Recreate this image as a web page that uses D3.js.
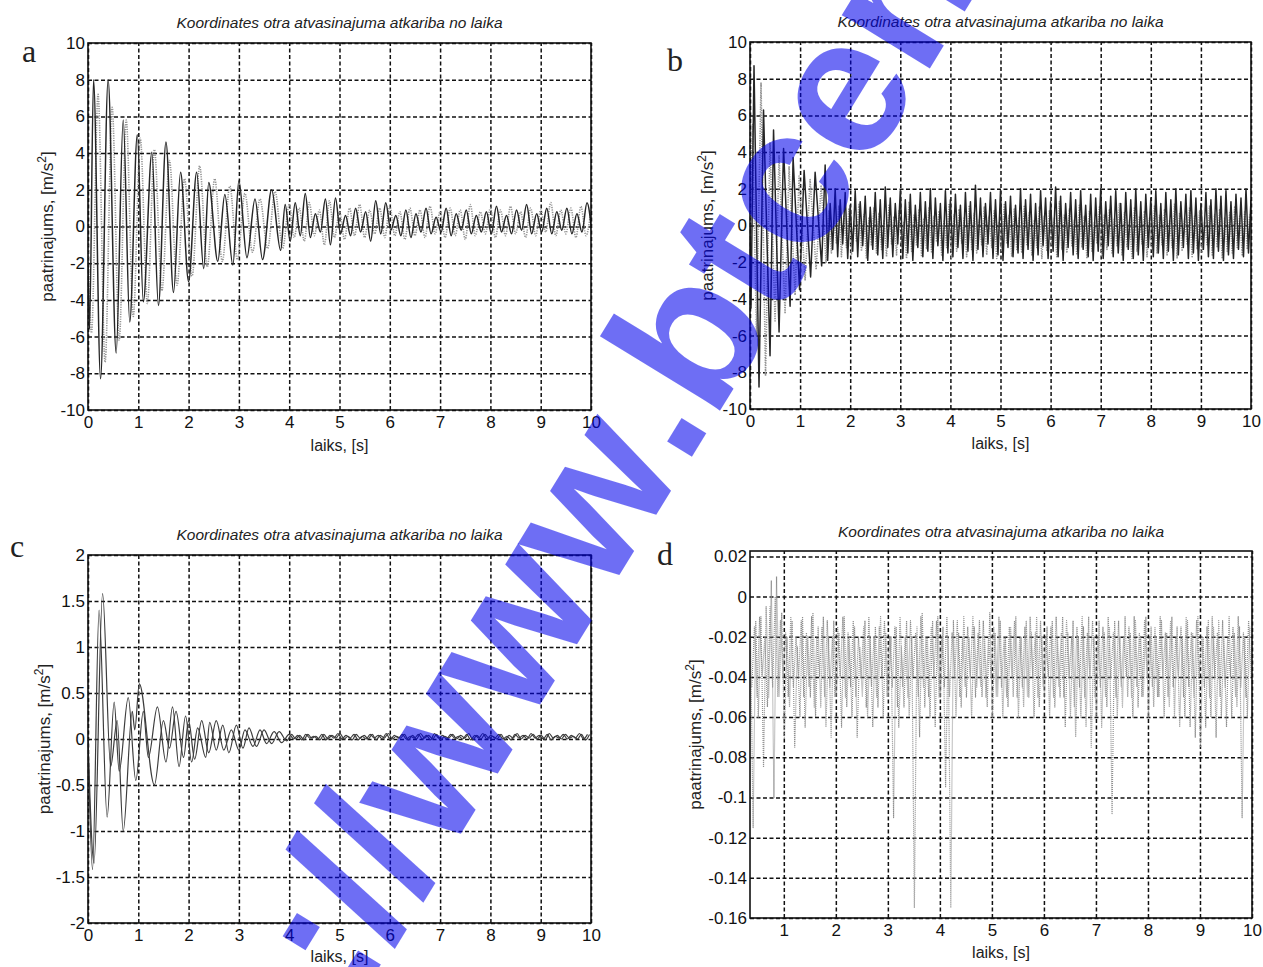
<!DOCTYPE html>
<html>
<head>
<meta charset="utf-8">
<script src="https://cdn.jsdelivr.net/npm/d3@7"></script>
<style>
  body { margin: 0; background: #fff; }
  svg { display: block; background: #fff; }
</style>
</head>
<body>
<svg id="chart" width="1263" height="967"></svg>
<script>
const TITLE = "Koordinates otra atvasinajuma atkariba no laika";
const XLABEL = "laiks, [s]";
const YLABEL = "paatrinajums, [m/s";

const xTicks10 = [0, 1, 2, 3, 4, 5, 6, 7, 8, 9, 10];
const xTicksD = [1, 2, 3, 4, 5, 6, 7, 8, 9, 10];
const yTicksAB = [-10, -8, -6, -4, -2, 0, 2, 4, 6, 8, 10];
const yTicksC = [-2, -1.5, -1, -0.5, 0, 0.5, 1, 1.5, 2];
const yLabelsC = ["-2", "-1.5", "-1", "-0.5", "0", "0.5", "1", "1.5", "2"];
const yTicksD = [-0.16, -0.14, -0.12, -0.1, -0.08, -0.06, -0.04, -0.02, 0, 0.02];
const yLabelsD = ["-0.16", "-0.14", "-0.12", "-0.1", "-0.08", "-0.06", "-0.04", "-0.02", "0", "0.02"];

// ---- panel a : [t, value] turning points, then tail values at fixed step
const aSolidHead = [[0,-2],[0.03,-5.6],[0.11,8.0],[0.25,-8.3],[0.40,8.0],[0.56,-6.9],[0.70,5.8],[0.83,-5.2],
  [0.98,5.0],[1.10,-4.1],[1.27,4.05],[1.40,-4.3],[1.55,4.6],[1.70,-3.6],[1.84,2.95],[2.0,-3.0],[2.16,2.95],
  [2.30,-2.3],[2.40,2.4],[2.58,-1.9],[2.72,1.75],[2.88,-2.1],[3.0,2.5],[3.16,-1.7],[3.32,1.5],[3.47,-1.8],
  [3.65,2.0],[3.83,-1.3],[3.92,1.2],[4.02,-0.8]];
const aSolidTail = [1.3,-0.5, 1.8,-0.6, 0.7,-0.3, 1.5,-1.0, 1.55,-0.4, 0.6,-0.5, 1.0,-0.3, 0.8,-0.8, 1.4,-0.4, 1.3,-0.2,
  0.6,-0.5, 0.9,-0.6, 0.7,-0.3, 1.0,-0.4, 0.5,-0.3, 1.0,-0.5, 0.7,-0.2, 0.9,-0.4, 0.6,-0.3, 0.8,-0.4,
  1.1,-0.3, 0.6,-0.4, 0.9,-0.2, 1.2,-0.4, 0.7,-0.3, 1.0,-0.4, 0.8,-0.2, 1.0,-0.4, 0.7,-0.3, 1.3,-0.4];
const aDotHead = [[0,-1],[0.07,-5.8],[0.2,7.2],[0.34,-7.4],[0.48,6.5],[0.62,-6.2],[0.76,5.8],[0.9,-4.9],
  [1.04,4.8],[1.18,-4.2],[1.32,4.2],[1.47,-3.5],[1.62,3.6],[1.77,-3.2],[1.92,2.6],[2.07,-2.7],[2.22,3.3],
  [2.37,-2.2],[2.52,2.6],[2.67,-1.9],[2.82,2.2],[2.97,-1.8],[3.12,1.8],[3.27,-1.4],[3.42,1.5],[3.57,-1.2],
  [3.72,1.9],[3.87,-1.2],[4.0,1.2]];
const aDotTail = [-0.6,1.0, -0.8,1.3, -0.5,0.9, -1.0,1.4, -0.6,0.8, -0.7,1.0, -0.5,1.2, -0.6,0.9, -0.4,1.0, -0.6,1.1,
  -0.5,0.8, -0.7,1.0, -0.5,0.9, -0.6,1.1, -0.4,0.8, -0.6,1.0, -0.5,0.9, -0.7,1.2, -0.5,0.8, -0.4,1.0,
  -0.6,0.9, -0.5,1.1, -0.4,0.8, -0.6,1.0, -0.5,0.9, -0.3,1.3, -0.5,0.9, -0.4,1.0, -0.6,1.1, -0.5,0.9];

// ---- panel b
const bSolidHead = [[0,0],[0.02,-4.5],[0.08,8.7],[0.18,-8.8],[0.27,6.3],[0.40,-7.1],[0.47,5.2],[0.58,-5.8],
  [0.67,4.2],[0.80,-4.4],[0.86,3.7],[0.99,-3.5],[1.08,3.0],[1.21,-2.8],[1.30,2.9],[1.43,-2.2],[1.50,3.3]];
const bSolidTail = [-1.9,1.2, -1.3,2.0, -1.7,1.4, -1.0,1.8, -1.8,1.1, -1.4,1.9, -1.7,1.3, -1.1,1.6, -1.9,1.0, -1.3,1.8,
  -1.6,1.4, -1.8,2.1, -1.2,1.5, -1.7,1.2, -1.0,1.9, -1.8,1.4, -1.5,1.7, -1.9,1.1, -1.2,1.8, -1.7,1.3,
  -1.4,2.0, -1.8,1.5, -1.1,1.2, -1.9,1.9, -1.5,1.4, -1.7,1.7, -1.2,1.1, -1.8,1.8, -1.4,1.3, -1.9,2.2,
  -1.3,1.5, -1.7,1.2, -1.0,1.8, -1.8,1.4, -1.6,1.9, -1.9,1.3, -1.2,1.6, -1.7,1.1, -1.5,2.0, -1.8,1.4,
  -1.3,1.7, -1.9,1.2, -1.6,1.9, -1.1,1.5, -1.8,1.3, -1.4,2.1, -1.7,1.6, -1.9,1.2, -1.2,1.8, -1.6,1.4,
  -1.8,1.9, -1.3,1.1, -1.7,1.7, -1.9,1.5, -1.4,2.0, -1.8,1.3, -1.1,1.6, -1.7,1.9, -1.5,1.2, -1.9,1.8,
  -1.3,1.4, -1.8,2.0, -1.6,1.3, -1.9,1.7, -1.2,1.5, -1.7,1.9, -1.5,1.2, -1.8,1.8, -1.4,1.4, -1.9,2.0,
  -1.6,1.3, -1.2,1.7, -1.8,1.9, -1.5,1.5, -1.9,1.2, -1.3,1.8, -1.7,1.4, -1.8,2.0, -1.4,1.6, -1.9,1.9,
  -1.6,1.3, -1.8,1.7, -1.3,1.5, -1.7,2.0, -1.5,1.4];
const bDotHead = [[0,0],[0.05,5.5],[0.13,-6.0],[0.22,7.8],[0.31,-8.2],[0.40,4.5],[0.50,-5.2],[0.58,3.8],
  [0.70,-4.8],[0.78,3.2],[0.90,-3.8],[0.98,2.7],[1.10,-3.0],[1.20,2.5],[1.32,-2.4],[1.42,2.2],[1.52,-2.0]];
const bDotTail = [0.8,-1.5, 0.3,-1.0, 1.1,-1.7, 0.5,-1.2, 0.9,-1.6, 0.2,-0.9, 1.2,-1.4, 0.6,-1.8, 0.4,-1.1, 1.0,-1.5,
  0.7,-1.3, 0.3,-1.7, 1.1,-1.0, 0.5,-1.6, 0.8,-1.2, 0.2,-1.8, 1.3,-1.4, 0.6,-1.1, 0.9,-1.7, 0.4,-1.3,
  1.0,-1.5, 0.5,-0.9, 0.8,-1.6, 0.3,-1.2, 1.2,-1.8, 0.6,-1.4, 0.9,-1.0, 0.4,-1.7, 1.1,-1.3, 0.7,-1.5,
  0.3,-1.1, 1.0,-1.6, 0.5,-1.2, 0.8,-1.8, 0.2,-1.4, 1.2,-1.0, 0.6,-1.7, 0.9,-1.3, 0.4,-1.5, 1.1,-1.1,
  0.7,-1.6, 0.3,-1.2, 1.0,-1.8, 0.5,-1.4, 0.8,-1.0, 0.4,-1.7, 1.3,-1.3, 0.6,-1.5, 0.9,-1.1, 0.3,-1.6,
  1.1,-1.2, 0.5,-1.8, 0.8,-1.4, 0.2,-1.0, 1.0,-1.7, 0.6,-1.3, 0.9,-1.5, 0.4,-1.1, 1.2,-1.6, 0.7,-1.2,
  0.3,-1.8, 1.0,-1.4, 0.5,-1.0, 0.8,-1.7, 0.4,-1.3, 1.1,-1.5, 0.6,-1.1, 0.9,-1.6, 0.3,-1.2, 1.2,-1.8,
  0.7,-1.4, 0.4,-1.0, 1.0,-1.7, 0.5,-1.3, 0.8,-1.5, 0.2,-1.1, 1.1,-1.6, 0.6,-1.2, 0.9,-1.8, 0.4,-1.4,
  0.7,-1.5, 1.0,-1.2, 0.5,-1.6, 0.8,-1.3, 0.6];

// ---- panel c
const cOneHead = [[0,0],[0.09,-1.42],[0.22,1.4],[0.38,-0.85],[0.52,0.4],[0.62,-0.35],[0.80,0.45],[0.95,-0.45],
  [1.10,0.3],[1.2,-0.2],[1.38,0.35],[1.55,-0.25],[1.68,0.35],[1.81,-0.3],[1.94,0.25],[2.06,-0.25],[2.18,0.12],
  [2.34,-0.2],[2.42,0.18],[2.55,-0.12],[2.68,0.15],[2.8,-0.15],[2.95,0.15],[3.08,-0.1],[3.2,0.12],[3.35,-0.08],
  [3.5,0.1],[3.65,-0.05],[3.8,0.08],[3.95,-0.02]];
const cOneTail = [0.05,0.0, 0.04,-0.01, 0.05,0.01, 0.03,-0.01, 0.05,0.0, 0.04,0.01, 0.06,0.0, 0.03,-0.01, 0.05,0.01, 0.04,0.0,
  0.05,-0.01, 0.04,0.01, 0.06,0.0, 0.03,0.01, 0.05,-0.01, 0.04,0.0, 0.06,0.01, 0.04,0.0, 0.05,-0.01, 0.03,0.01,
  0.05,0.0, 0.04,0.01, 0.06,-0.01, 0.04,0.0, 0.05,0.01, 0.03,0.0, 0.05,-0.01, 0.04,0.01, 0.06,0.0, 0.04,0.01,
  0.05,0.0, 0.04,-0.01, 0.06,0.01, 0.04,0.0, 0.05,0.01, 0.03,0.0, 0.05,-0.01, 0.05];
const cTwoHead = [[0,0],[0.12,-1.35],[0.29,1.58],[0.45,-0.3],[0.58,0.2],[0.70,-1.0],[0.88,0.3],[0.93,0.1],
  [1.02,0.6],[1.32,-0.5],[1.5,0.2],[1.62,-0.1],[1.75,0.3],[1.9,-0.2],[2.0,0.2],[2.12,-0.22],[2.26,0.2],
  [2.4,-0.15],[2.55,0.2],[2.7,-0.12],[2.85,0.1],[3.0,-0.12],[3.12,0.1],[3.28,-0.08],[3.42,0.1],[3.55,-0.05],
  [3.7,0.08],[3.85,-0.04],[4.0,0.05]];
const cTwoTail = [0.0,0.04, -0.01,0.05, 0.01,0.03, 0.0,0.05, -0.01,0.04, 0.01,0.06, 0.0,0.04, 0.01,0.05, -0.01,0.03, 0.0,0.05,
  0.01,0.04, 0.0,0.06, -0.01,0.04, 0.01,0.05, 0.0,0.03, 0.01,0.05, 0.0,0.04, -0.01,0.06, 0.01,0.04, 0.0,0.05,
  0.01,0.03, 0.0,0.05, -0.01,0.04, 0.01,0.06, 0.0,0.04, 0.01,0.05, 0.0,0.03, -0.01,0.05, 0.01,0.04, 0.0,0.06,
  0.01,0.04, 0.0,0.05, -0.01,0.03, 0.01,0.05, 0.0,0.04, 0.01,0.06, 0.0,0.05];

// ---- panel d, values every 0.05 s (first from 0.36 s, second from 0.385 s)
const dVals = [-0.02,-0.115,-0.012,-0.06,-0.01,-0.085,-0.005,-0.05,0.008,-0.10,
  0.01,-0.05,-0.008,-0.07,-0.02,-0.055,-0.012,-0.075,-0.025,-0.06,
  -0.01,-0.065,-0.02,-0.05,-0.008,-0.06,-0.015,-0.055,-0.01,-0.065,
  -0.02,-0.07,-0.012,-0.05,-0.018,-0.065,-0.01,-0.055,-0.02,-0.06,
  -0.015,-0.07,-0.025,-0.05,-0.012,-0.06,-0.02,-0.065,-0.015,-0.055,
  -0.01,-0.06,-0.018,-0.05,-0.02,-0.11,-0.015,-0.065,-0.025,-0.055,
  -0.012,-0.06,-0.02,-0.155,-0.015,-0.07,-0.008,-0.055,-0.02,-0.06,
  -0.012,-0.065,-0.01,-0.05,-0.015,-0.095,-0.02,-0.155,-0.012,-0.06,
  -0.018,-0.055,-0.01,-0.05,-0.02,-0.06,-0.015,-0.045,-0.012,-0.05,
  -0.02,-0.055,-0.008,-0.06,-0.018,-0.05,-0.012,-0.06,-0.02,-0.055,
  -0.015,-0.05,-0.01,-0.06,-0.02,-0.055,-0.012,-0.05,-0.018,-0.06,
  -0.01,-0.055,-0.02,-0.05,-0.015,-0.06,-0.012,-0.055,-0.02,-0.05,
  -0.01,-0.065,-0.018,-0.06,-0.012,-0.07,-0.02,-0.06,-0.015,-0.065,
  -0.01,-0.075,-0.02,-0.06,-0.012,-0.065,-0.018,-0.055,-0.015,-0.108,
  -0.012,-0.06,-0.02,-0.055,-0.01,-0.05,-0.018,-0.06,-0.012,-0.055,
  -0.02,-0.05,-0.01,-0.06,-0.015,-0.055,-0.02,-0.05,-0.012,-0.06,
  -0.018,-0.055,-0.01,-0.06,-0.015,-0.065,-0.02,-0.06,-0.012,-0.065,
  -0.018,-0.07,-0.01,-0.075,-0.02,-0.065,-0.012,-0.06,-0.015,-0.07,
  -0.012,-0.06,-0.02,-0.065,-0.01,-0.06,-0.018,-0.055,-0.015,-0.11,
  -0.02,-0.06,-0.015];
const dVals2 = [-0.045,-0.015,-0.05,-0.01,-0.04,-0.02,-0.055,-0.005,-0.045,0.0,
  -0.05,-0.012,-0.04,-0.018,-0.05,-0.01,-0.045,-0.02,-0.04,-0.012,
  -0.05,-0.018,-0.045,-0.01,-0.055,-0.02,-0.04,-0.015,-0.05,-0.012,
  -0.045,-0.02,-0.05,-0.015,-0.04,-0.01,-0.05,-0.018,-0.045,-0.012,
  -0.05,-0.02,-0.04,-0.015,-0.055,-0.01,-0.045,-0.02,-0.05,-0.015,
  -0.04,-0.012,-0.05,-0.02,-0.045,-0.015,-0.055,-0.01,-0.045,-0.02,
  -0.05,-0.012,-0.04,-0.018,-0.05,-0.01,-0.045,-0.02,-0.05,-0.015,
  -0.04,-0.012,-0.05,-0.02,-0.045,-0.01,-0.05,-0.018,-0.04,-0.012,
  -0.05,-0.02,-0.045,-0.015,-0.04,-0.01,-0.05,-0.018,-0.045,-0.012,
  -0.05,-0.02,-0.04,-0.015,-0.05,-0.01,-0.045,-0.02,-0.05,-0.015,
  -0.04,-0.012,-0.05,-0.02,-0.045,-0.015,-0.05,-0.01,-0.04,-0.018,
  -0.05,-0.012,-0.045,-0.02,-0.04,-0.015,-0.05,-0.01,-0.045,-0.018,
  -0.05,-0.012,-0.04,-0.02,-0.055,-0.015,-0.045,-0.01,-0.05,-0.018,
  -0.04,-0.012,-0.05,-0.02,-0.045,-0.015,-0.05,-0.01,-0.04,-0.018,
  -0.05,-0.012,-0.045,-0.02,-0.04,-0.015,-0.05,-0.01,-0.045,-0.018,
  -0.05,-0.012,-0.04,-0.02,-0.045,-0.015,-0.05,-0.01,-0.04,-0.018,
  -0.05,-0.012,-0.045,-0.02,-0.04,-0.015,-0.05,-0.01,-0.045,-0.018,
  -0.05,-0.012,-0.04,-0.02,-0.045,-0.015,-0.05,-0.01,-0.04,-0.018,
  -0.05,-0.012,-0.045,-0.02,-0.04,-0.015,-0.05,-0.01,-0.045,-0.018,
  -0.05,-0.012,-0.04];

function build(head, tail, t0, dt) {
  return head.concat(tail.map((v, i) => [t0 + i * dt, v]));
}

const SOLID = {stroke: "#262626", width: 1.5, dash: null};
const DOTTED = {stroke: "#929292", width: 1.6, dash: "1.2,1.2"};
const THIN = {stroke: "#3c3c3c", width: 1.2, dash: null};
const DOTD = {stroke: "#8f8f8f", width: 1.2, dash: "1,1"};

const panels = [
  {id: "a", L: 88, R: 591, T: 43, B: 410, xd: [0, 10], yd: [-10, 10], xt: xTicks10, yt: yTicksAB, ytl: yTicksAB.map(String),
   titleY: 28, xlabY: 451, ylabX: 53, letter: [22, 62], curve: d3.curveMonotoneX,
   series: [[build(aDotHead, aDotTail, 4.1, 0.1), DOTTED], [build(aSolidHead, aSolidTail, 4.12, 0.1), SOLID]]},
  {id: "b", L: 750, R: 1251, T: 42, B: 409, xd: [0, 10], yd: [-10, 10], xt: xTicks10, yt: yTicksAB, ytl: yTicksAB.map(String),
   titleY: 27, xlabY: 449, ylabX: 713, letter: [667, 71], curve: d3.curveLinear,
   series: [[build(bDotHead, bDotTail, 1.575, 0.05), DOTTED], [build(bSolidHead, bSolidTail, 1.55, 0.05), SOLID]]},
  {id: "c", L: 88, R: 591, T: 555, B: 923, xd: [0, 10], yd: [-2, 2], xt: xTicks10, yt: yTicksC, ytl: yLabelsC,
   titleY: 540, xlabY: 962, ylabX: 50, letter: [10, 557], curve: d3.curveMonotoneX,
   series: [[build(cTwoHead, cTwoTail, 4.09, 0.08), THIN], [build(cOneHead, cOneTail, 4.05, 0.08), THIN]]},
  {id: "d", L: 750, R: 1252, T: 551, B: 918, xd: [0.35, 10], yd: [-0.16, 0.0227], xt: xTicksD, yt: yTicksD, ytl: yLabelsD,
   titleY: 537, xlabY: 958, ylabX: 701, letter: [657, 565], curve: d3.curveLinear,
   series: [[build([], dVals2, 0.385, 0.05), DOTD], [build([], dVals, 0.36, 0.05), DOTD]]}
];

const FONT = "'Liberation Sans Narrow','Arial Narrow','Liberation Sans',Arial,sans-serif";
const svg = d3.select("#chart");

panels.forEach(p => {
  const x = d3.scaleLinear().domain(p.xd).range([p.L, p.R]);
  const y = d3.scaleLinear().domain(p.yd).range([p.B, p.T]);
  const g = svg.append("g");

  g.append("clipPath").attr("id", "clip-" + p.id)
    .append("rect").attr("x", p.L).attr("y", p.T).attr("width", p.R - p.L).attr("height", p.B - p.T);

  // grid via axes
  const gx = g.append("g").attr("transform", `translate(0,${p.B})`)
    .call(d3.axisBottom(x).tickValues(p.xt).tickSize(-(p.B - p.T)).tickPadding(6).tickFormat(d => String(d)));
  const gy = g.append("g").attr("transform", `translate(${p.L},0)`)
    .call(d3.axisLeft(y).tickValues(p.yt).tickSize(-(p.R - p.L)).tickPadding(3).tickFormat((d, i) => p.ytl[i]));
  [gx, gy].forEach(ax => {
    ax.attr("font-family", FONT).attr("font-size", 17);
    ax.select(".domain").remove();
    ax.selectAll(".tick line").attr("stroke", "#111").attr("stroke-width", 1.5).attr("stroke-dasharray", "4,2.5");
    ax.selectAll(".tick text").attr("fill", "#111");
  });

  const line = d3.line().x(d => x(d[0])).y(d => y(d[1])).curve(p.curve);
  const lines = g.append("g").attr("clip-path", `url(#clip-${p.id})`);
  p.series.forEach(([data, st]) => {
    lines.append("path").datum(data).attr("d", line).attr("fill", "none")
      .attr("stroke", st.stroke).attr("stroke-width", st.width)
      .attr("stroke-dasharray", st.dash).attr("stroke-linejoin", "round");
  });

  g.append("rect").attr("x", p.L).attr("y", p.T).attr("width", p.R - p.L).attr("height", p.B - p.T)
    .attr("fill", "none").attr("stroke", "#111").attr("stroke-width", 1.6);

  g.append("text").attr("x", (p.L + p.R) / 2).attr("y", p.titleY).attr("text-anchor", "middle")
    .attr("font-family", FONT).attr("font-style", "italic").attr("font-size", 15).attr("fill", "#222")
    .attr("textLength", 326).attr("lengthAdjust", "spacingAndGlyphs").text(TITLE);

  g.append("text").attr("x", (p.L + p.R) / 2).attr("y", p.xlabY).attr("text-anchor", "middle")
    .attr("font-family", FONT).attr("font-size", 16).attr("fill", "#222").text(XLABEL);

  const yl = g.append("text").attr("transform", `translate(${p.ylabX},${(p.T + p.B) / 2}) rotate(-90)`)
    .attr("text-anchor", "middle").attr("font-family", FONT).attr("font-size", 17).attr("fill", "#222");
  yl.append("tspan").text(YLABEL);
  yl.append("tspan").attr("baseline-shift", "super").attr("font-size", 12).text("2");
  yl.append("tspan").text("]");

  g.append("text").attr("x", p.letter[0]).attr("y", p.letter[1])
    .attr("font-family", "'Liberation Serif','Times New Roman',serif").attr("font-size", 32).attr("fill", "#222")
    .text(p.id);
});

// watermark over the scan
const wm = svg.append("g").attr("transform", "translate(685,468) rotate(-58.5)")
  .attr("fill", "rgb(0,0,235)").attr("fill-opacity", 0.57)
  .attr("font-family", "'Liberation Sans',Arial,sans-serif").attr("font-weight", "bold").attr("font-size", 195);
wm.append("text").attr("text-anchor", "end").text("http://www");
wm.append("text").attr("text-anchor", "start").text(".btcen");
</script>
</body>
</html>
